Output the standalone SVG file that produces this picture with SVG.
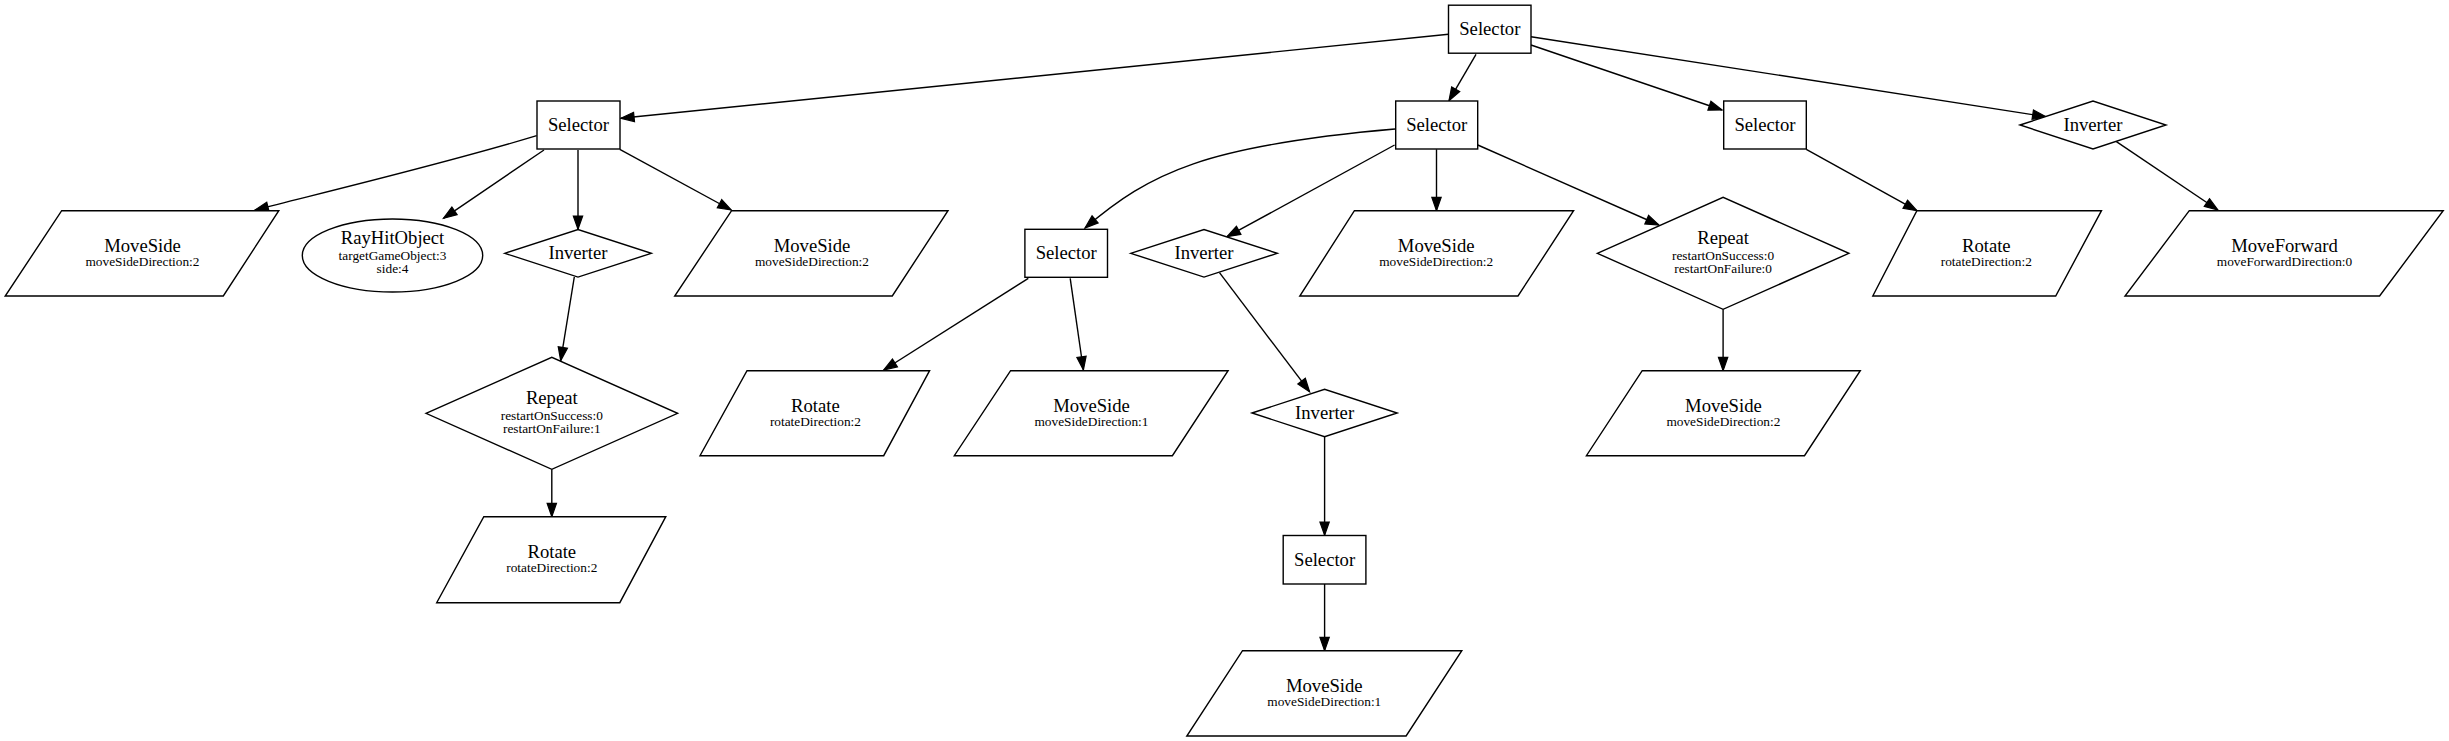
<svg xmlns="http://www.w3.org/2000/svg" width="2449" height="741" viewBox="0 0 2449 741">
<style>
.n{fill:#fff;stroke:#000;stroke-width:1.4}
.e{fill:none;stroke:#000;stroke-width:1.4;marker-end:url(#ah)}
text{font-family:"Liberation Serif","Times New Roman",serif;fill:#000;text-anchor:middle}
.t{font-size:18.67px}
.s{font-size:13.33px}
</style>
<defs>
<marker id="ah" markerWidth="16" markerHeight="12" refX="13.3" refY="4.67" orient="auto" markerUnits="userSpaceOnUse" overflow="visible">
<path d="M0,0 L13.3,4.67 L0,9.33 z" fill="#000" stroke="#000" stroke-width="1.2"/>
</marker>
</defs>
<rect width="2449" height="741" fill="#fff"/>
<g id="connectors">
<path class="e" d="M1448.5,34.3 L620.8,118.3"/>
<path class="e" d="M1476,54.3 L1449,100.7"/>
<path class="e" d="M1531,45 L1722,110"/>
<path class="e" d="M1531,36.7 L2045.9,116.7"/>
<path class="e" d="M536.7,135.7 C450,162 350,186 255,210"/>
<path class="e" d="M544,150 L443.5,218.3"/>
<path class="e" d="M578,150 L578,229.3"/>
<path class="e" d="M619.8,149.3 L731.2,210"/>
<path class="e" d="M574.3,277 L560.7,360.7"/>
<path class="e" d="M551.8,469.3 L551.8,516.7"/>
<path class="e" d="M1395,129 C1205.8,145.5 1150,172.3 1085,228"/>
<path class="e" d="M1394.6,145 L1227,236.7"/>
<path class="e" d="M1436.5,149.3 L1436.5,210.7"/>
<path class="e" d="M1477.8,145 L1658.9,225"/>
<path class="e" d="M1028.3,278.3 L883.7,370"/>
<path class="e" d="M1070.2,278.3 L1083.4,370"/>
<path class="e" d="M1219.5,272.7 L1309.6,391.7"/>
<path class="e" d="M1324.6,436.7 L1324.6,535.3"/>
<path class="e" d="M1324.6,584 L1324.6,650.7"/>
<path class="e" d="M1806.3,149.3 L1916.9,210.7"/>
<path class="e" d="M2116.4,141.7 L2217.9,210"/>
<path class="e" d="M1723.1,309.3 L1723.1,370.7"/>
</g>
<g id="n0"><rect class="n" x="1448.5" y="5.2" width="82.5" height="48"/><text class="t" x="1489.8" y="35">Selector</text></g>
<g id="n1"><rect class="n" x="537" y="101" width="83" height="48"/><text class="t" x="578.5" y="130.8">Selector</text></g>
<g id="n2"><rect class="n" x="1395.7" y="101" width="82" height="48"/><text class="t" x="1436.7" y="130.8">Selector</text></g>
<g id="n3"><rect class="n" x="1723.7" y="101" width="82.6" height="48"/><text class="t" x="1765" y="130.8">Selector</text></g>
<g id="n4"><polygon class="n" points="2020,125 2093,101 2166,125 2093,149"/><text class="t" x="2093" y="130.8">Inverter</text></g>
<g id="n5"><polygon class="n" points="61.7,210.7 278.8,210.7 223.3,296 5.2,296"/><text class="t" x="142.5" y="251.7">MoveSide</text><text class="s" x="142.5" y="265.8">moveSideDirection:2</text></g>
<g id="n6"><ellipse class="n" cx="392.5" cy="255.5" rx="90.2" ry="36.5"/><text class="t" x="392.5" y="244.3">RayHitObject</text><text class="s" x="392.5" y="259.5">targetGameObject:3</text><text class="s" x="392.5" y="273">side:4</text></g>
<g id="n7"><polygon class="n" points="504.7,253.3 578,229.5 651.3,253.3 578,277.1"/><text class="t" x="578" y="259.1">Inverter</text></g>
<g id="n8"><polygon class="n" points="731.6,210.7 948,210.7 892.3,296 674.7,296"/><text class="t" x="812" y="251.7">MoveSide</text><text class="s" x="812" y="265.8">moveSideDirection:2</text></g>
<g id="n9"><rect class="n" x="1024.9" y="229.3" width="82.6" height="48"/><text class="t" x="1066.2" y="259.1">Selector</text></g>
<g id="n10"><polygon class="n" points="1130.7,253.3 1204,229.5 1277.3,253.3 1204,277.1"/><text class="t" x="1204" y="259.1">Inverter</text></g>
<g id="n11"><polygon class="n" points="1354.4,210.7 1573.6,210.7 1518,296 1299.8,296"/><text class="t" x="1436.2" y="251.7">MoveSide</text><text class="s" x="1436.2" y="265.8">moveSideDirection:2</text></g>
<g id="n12"><polygon class="n" points="1597.3,253.3 1723.1,197.3 1848.9,253.3 1723.1,309.3"/><text class="t" x="1723.1" y="244.3">Repeat</text><text class="s" x="1723.1" y="259.5">restartOnSuccess:0</text><text class="s" x="1723.1" y="273">restartOnFailure:0</text></g>
<g id="n13"><polygon class="n" points="1916.9,210.7 2101.5,210.7 2055.7,296 1872.8,296"/><text class="t" x="1986.3" y="251.7">Rotate</text><text class="s" x="1986.3" y="265.8">rotateDirection:2</text></g>
<g id="n14"><polygon class="n" points="2189.3,210.7 2443.2,210.7 2379.6,296 2125,296"/><text class="t" x="2284.5" y="251.7">MoveForward</text><text class="s" x="2284.5" y="265.8">moveForwardDirection:0</text></g>
<g id="n15"><polygon class="n" points="426,413.3 551.8,357.3 677.6,413.3 551.8,469.3"/><text class="t" x="551.8" y="404.3">Repeat</text><text class="s" x="551.8" y="419.5">restartOnSuccess:0</text><text class="s" x="551.8" y="433">restartOnFailure:1</text></g>
<g id="n16"><polygon class="n" points="747,370.7 929.6,370.7 883.7,455.7 700,455.7"/><text class="t" x="815.4" y="411.6">Rotate</text><text class="s" x="815.4" y="425.7">rotateDirection:2</text></g>
<g id="n17"><polygon class="n" points="1010.6,370.7 1228.1,370.7 1172.4,455.7 954.3,455.7"/><text class="t" x="1091.5" y="411.6">MoveSide</text><text class="s" x="1091.5" y="425.7">moveSideDirection:1</text></g>
<g id="n18"><polygon class="n" points="1252,413 1324.6,389.3 1397.2,413 1324.6,436.7"/><text class="t" x="1324.6" y="418.8">Inverter</text></g>
<g id="n19"><polygon class="n" points="1642.2,370.7 1860.3,370.7 1804.5,455.7 1586.4,455.7"/><text class="t" x="1723.4" y="411.6">MoveSide</text><text class="s" x="1723.4" y="425.7">moveSideDirection:2</text></g>
<g id="n20"><polygon class="n" points="483.8,516.7 665.8,516.7 619.8,602.7 436.7,602.7"/><text class="t" x="551.8" y="558.2">Rotate</text><text class="s" x="551.8" y="572.3">rotateDirection:2</text></g>
<g id="n21"><rect class="n" x="1283.2" y="535.5" width="82.7" height="48.5"/><text class="t" x="1324.6" y="565.5">Selector</text></g>
<g id="n22"><polygon class="n" points="1242.5,650.7 1461.8,650.7 1406.1,736 1186.8,736"/><text class="t" x="1324.3" y="691.7">MoveSide</text><text class="s" x="1324.3" y="705.8">moveSideDirection:1</text></g>
</svg>
